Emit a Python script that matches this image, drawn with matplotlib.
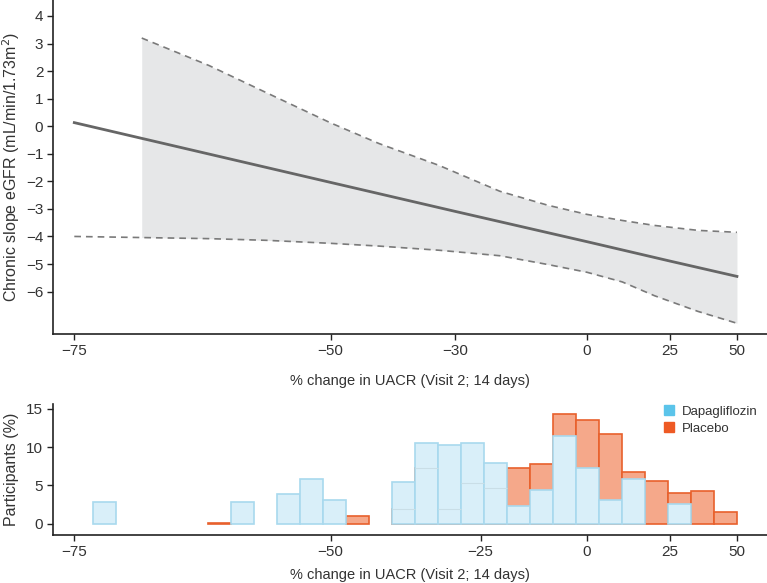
import numpy as np
import matplotlib
matplotlib.use('Agg')
import matplotlib.pyplot as plt
from matplotlib.patches import Patch

plt.rcParams['font.family'] = ['Liberation Sans', 'DejaVu Sans']

# top panel: regression of chronic eGFR slope on % change in UACR
line_x = [-75, -50, -30, 0, 25, 50]
line_y = [0.13, -2.04, -3.09, -4.19, -4.89, -5.45]

band_x = [-75, -70, -64, -58, -50, -43, -33, -21, -10, 0, 10, 20, 35, 50]
band_upper = [np.nan, 3.2, 2.2, 1.22, 0.12, -0.63, -1.42, -2.36, -2.87, -3.2, -3.42, -3.6, -3.78, -3.85]
band_lower = [-4.0, -4.04, -4.08, -4.14, -4.25, -4.35, -4.5, -4.7, -5.02, -5.3, -5.65, -6.15, -6.72, -7.15]

# bottom panel: distribution of % change in UACR (28 bins, equal width on log ratio)
uacr_min, uacr_max, n_bins = -73.7, 50, 28
dapa_pct = [2.8, 0, 0, 0, 0, 0, 2.8, 0, 3.84, 5.8, 3.1, 0, 0, 5.5,
            10.5, 10.25, 10.5, 8.0, 2.27, 4.4, 11.42, 7.28, 3.1, 5.84, 0, 2.53, 0, 0]
placebo_pct = [0, 0, 0, 0, 0, 0.15, 0, 0, 0, 0, 0, 0.97, 0, 1.96,
               7.28, 1.96, 5.36, 4.67, 7.28, 7.76, 14.38, 13.5, 11.73, 6.72, 5.63, 4.0, 4.23, 1.49]

top_ticks = [-75, -50, -30, 0, 25, 50]
bottom_ticks = [-75, -50, -25, 0, 25, 50]


def fwd(x):
    with np.errstate(invalid='ignore', divide='ignore'):
        return np.log1p(np.asarray(x) / 100.0)


def inv(y):
    return 100.0 * np.expm1(np.asarray(y))


def minus(v):
    return f'{v}'.replace('-', '\u2212')


text_col = '#333333'
fig = plt.figure(figsize=(7.67, 5.83), dpi=100)
ax1 = fig.add_axes([53 / 767, 1 - 334 / 583, 1 - 53 / 767, 334 / 583])
ax2 = fig.add_axes([53 / 767, 1 - 535 / 583, 1 - 53 / 767, 131 / 583])

for ax in (ax1, ax2):
    ax.set_xscale('function', functions=(fwd, inv))
    ax.set_xlim(-76.4, 62.7)
    ax.spines['top'].set_visible(False)
    ax.spines['right'].set_visible(False)
    for s in ('left', 'bottom'):
        ax.spines[s].set_linewidth(1.2)
        ax.spines[s].set_color('#222222')
    ax.tick_params(direction='out', length=4, width=1, color='#222222',
                   labelsize=11, labelcolor=text_col, pad=3)
    ax.minorticks_off()

# top panel
bx = np.array(band_x, dtype=float)
bu = np.array(band_upper)
bl = np.array(band_lower)
ax1.fill_between(bx, bl, bu, where=~np.isnan(bu), color='#e6e7e8', lw=0, zorder=1)
ax1.plot(bx, bu, color='#7a7a7a', lw=1.2, ls=(0, (4, 3)), zorder=2)
ax1.plot(bx, bl, color='#7a7a7a', lw=1.2, ls=(0, (4, 3)), zorder=2)
ax1.plot(line_x, line_y, color='#666666', lw=2, zorder=3)
ax1.set_ylim(-7.54, 4.58)
ax1.set_yticks(range(-6, 5))
ax1.set_yticklabels([minus(v) for v in range(-6, 5)])
ax1.set_xticks(top_ticks)
ax1.set_xticklabels([minus(v) for v in top_ticks])
ax1.set_ylabel('Chronic slope eGFR (mL/min/1.73m$^2$)', fontsize=11.5, color=text_col, labelpad=3)
ax1.set_xlabel('% change in UACR (Visit 2; 14 days)', fontsize=10.5, color=text_col, labelpad=12)

# bottom panel
edges = inv(np.linspace(fwd(uacr_min), fwd(uacr_max), n_bins + 1))
left = edges[:-1]
width = edges[1:] - edges[:-1]
dapa = np.array(dapa_pct)
plac = np.array(placebo_pct)
m = plac > 0
ax2.bar(left[m], plac[m], width=width[m], align='edge', color='#f5a88a',
        edgecolor='#e8602c', lw=1.2, zorder=2)
m = dapa > 0
ax2.bar(left[m], dapa[m], width=width[m], align='edge', color='#d9eff9',
        edgecolor='#a8d9ee', lw=1.2, zorder=3)
# faint outline of placebo bars hidden behind dapagliflozin bars
hid = (plac > 0) & (plac < dapa)
ax2.hlines(plac[hid], left[hid], edges[1:][hid], color='#c9dee7', lw=0.8, zorder=4)

ax2.set_ylim(-1.48, 15.65)
ax2.set_yticks([0, 5, 10, 15])
ax2.set_xticks(bottom_ticks)
ax2.set_xticklabels([minus(v) for v in bottom_ticks])
ax2.set_ylabel('Participants (%)', fontsize=11.5, color=text_col, labelpad=5)
ax2.set_xlabel('% change in UACR (Visit 2; 14 days)', fontsize=10.5, color=text_col, labelpad=7)

handles = [Patch(color='#5bc4ea', label='Dapagliflozin'),
           Patch(color='#ee5a24', label='Placebo')]
ax2.legend(handles=handles, loc='upper right', bbox_to_anchor=(1.0, 1.06), frameon=False,
           fontsize=9.5, handlelength=0.8, handleheight=0.8, handletextpad=0.6,
           labelspacing=0.3, labelcolor=text_col, borderaxespad=0.3)

fig.savefig('out.png', dpi=100)
